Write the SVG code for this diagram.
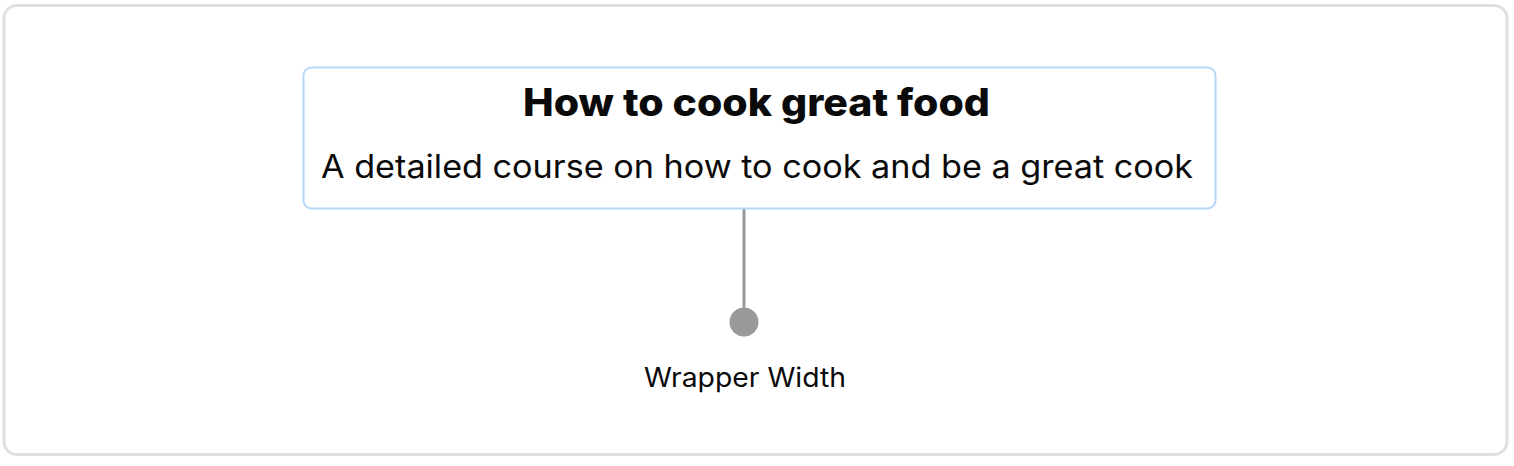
<svg xmlns="http://www.w3.org/2000/svg" width="1514" height="466" viewBox="0 0 1514 466">
<style>
text{font-family:Inter,"Noto Sans","Liberation Sans",sans-serif;fill:#0a0a0a;text-anchor:middle}
.t{font-weight:800;font-size:38px}
.s{font-size:32px}
.l{font-size:27px}
</style>
<rect x="0" y="0" width="1514" height="466" fill="#fff"/>
<rect id="frame" x="4" y="5.5" width="1503" height="449" rx="13" fill="#fff" stroke="#e0e0e0" stroke-width="3"/>
<g id="connectors">
<line x1="744" y1="208" x2="744" y2="318" stroke="#999" stroke-width="3"/>
<circle cx="744" cy="322" r="14.5" fill="#999"/>
</g>
<g id="node-main">
<rect x="303.5" y="67.5" width="912" height="141" rx="8" fill="#fff" stroke="#b6d7fa" stroke-width="2"/>
<text class="t" x="756.5" y="116" textLength="467" lengthAdjust="spacingAndGlyphs">How to cook great food</text>
<text class="s" x="757" y="178" textLength="872" lengthAdjust="spacingAndGlyphs">A detailed course on how to cook and be a great cook</text>
</g>
<g id="label">
<text class="l" x="745" y="387" textLength="202" lengthAdjust="spacingAndGlyphs">Wrapper Width</text>
</g>
</svg>
